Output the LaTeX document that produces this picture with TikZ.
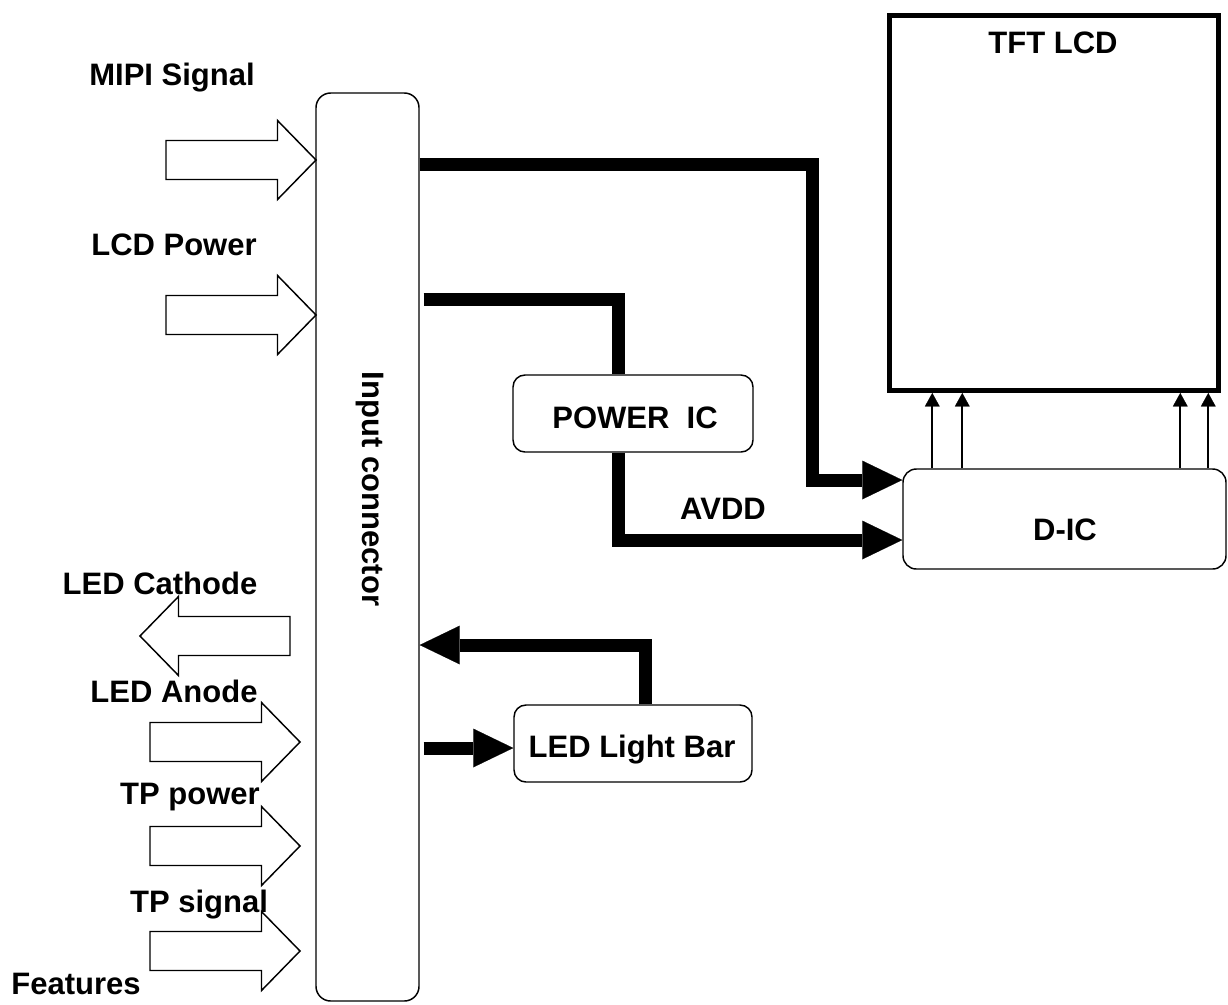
\documentclass[tikz,border=0pt]{standalone}
\usepackage{fontspec}
\setmainfont{Liberation Sans}
\usetikzlibrary{arrows.meta,calc}
\begin{document}
\begin{tikzpicture}[x=0.75pt,y=-0.75pt,
  lbl/.style={font=\fontsize{23.25pt}{28pt}\selectfont\bfseries, inner sep=0pt, anchor=base},
  rbox/.style={draw, line width=1.1pt, inner sep=0pt, rounded corners=9pt},
  thickline/.style={line width=9.75pt, line join=miter},
  bigtip/.style={-{Triangle[length=30pt 0 0, width=29pt 0 0, line width=0.1pt 0 0]}},
  thinarrow/.style={line width=1.5pt, -{Triangle[length=10pt 0 0, width=11pt 0 0, line width=0.1pt 0 0]}},
  fatarrow/.pic={\draw[line width=1.1pt, line join=miter]
     (-150,-19.5) -- (-38.5,-19.5) -- (-38.5,-39.5) -- (0,0) -- (-38.5,39.5) -- (-38.5,19.5) -- (-150,19.5) -- cycle;}
]
\useasboundingbox (0,0) rectangle (1228,1004);

% boxes
\node[rbox, rounded corners=11pt, minimum width=77.25pt, minimum height=681pt] (conn) at (367.5,547) {};
\node[lbl, anchor=center, rotate=-90] (conntext) at (370,489) {Input connector};
\node[draw, line width=3.75pt, inner sep=0pt, minimum width=246.4pt, minimum height=281.25pt] (tft) at (1053.75,203) {};
\node[lbl] (tfttext) at (1053,53) {TFT LCD};
\node[rbox, rounded corners=10pt, minimum width=242.25pt, minimum height=75pt] (dic) at (1064.5,519) {};
\node[lbl] (dictext) at (1065,540) {D-IC};
\node[rbox, minimum width=180pt, minimum height=57.75pt] (pwr) at (633,413.5) {};
\node[lbl] (pwrtext) at (635,428) {POWER\ \ IC};
\node[rbox, minimum width=178.5pt, minimum height=57.75pt] (led) at (633,743.5) {};
\node[lbl] (ledtext) at (632,757) {LED Light Bar};

% side labels
\node[lbl] (mipi) at (172,85) {MIPI Signal};
\node[lbl] (lcdp) at (174,255) {LCD Power};
\node[lbl] (cath) at (160,594) {LED Cathode};
\node[lbl] (anode) at (174,702) {LED Anode};
\node[lbl] (tpp) at (190,804) {TP power};
\node[lbl] (tps) at (199,912) {TP signal};
\node[lbl] (feat) at (76,994) {Features};

% hollow arrows
\pic at (316,160) {fatarrow};
\pic at (316,315) {fatarrow};
\pic[xscale=-1] at (140,636) {fatarrow};
\pic at (300,742) {fatarrow};
\pic at (300,846) {fatarrow};
\pic at (300,951) {fatarrow};

% thick connectors
\draw[thickline, bigtip] ($(conn.north east)+(0,72)$) -| ($(dic.west)+(-89.5,-39)$) -- ($(dic.west)+(0,-39)$);
\draw[thickline] ($(conn.north east)+(4,207)$) -| ($(pwr.north)+(-15,0)$);
\draw[thickline, bigtip] ($(pwr.south)+(-15,0)$) |- ($(dic.west)+(0,21)$);
\node[lbl] (avdd) at (723,519) {AVDD};
\draw[thickline, bigtip] ($(led.north)+(12,0)$) |- ($(conn.east)+(0,98)$);
\draw[thickline, bigtip] ($(conn.east)+(4,201)$) -- ($(led.west)+(0,4.5)$);

% thin arrows D-IC -> TFT
\foreach \dx [count=\i] in {30,60,278,306}{
  \coordinate (s\i) at ($(dic.north west)+(\dx,0)$);
  \draw[thinarrow] (s\i) -- (s\i |- tft.south);
}
\end{tikzpicture}
\end{document}
